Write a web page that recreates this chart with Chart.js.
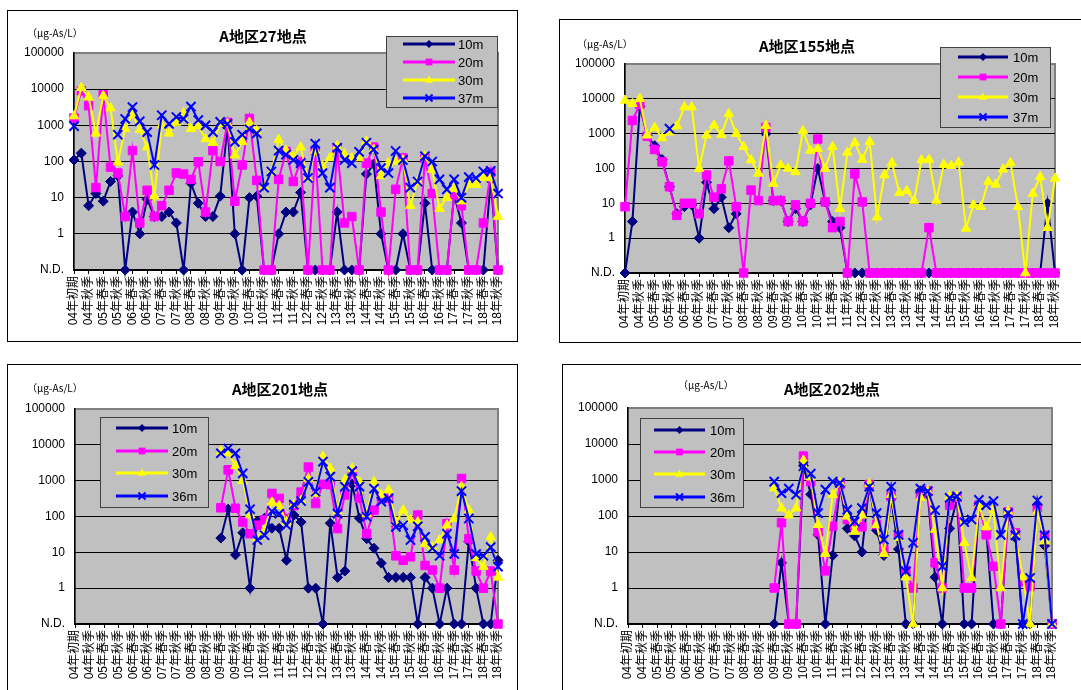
<!DOCTYPE html>
<html>
<head>
<meta charset="utf-8">
<script src="https://cdn.jsdelivr.net/npm/chart.js@4.4.0/dist/chart.umd.min.js"></script>
<style>
html, body { margin: 0; padding: 0; background: #fff; width: 1081px; height: 690px; overflow: hidden; position: relative; }
body { font-family: "Liberation Sans", "Noto Sans CJK JP", sans-serif; }
.box { position: absolute; border: 1px solid #000; box-sizing: border-box; }
canvas { position: absolute; }
.ttl { position: absolute; font-family: "Noto Sans CJK JP", sans-serif; font-size: 15px; font-weight: bold; transform: translate(-50%, -50%); white-space: nowrap; color: #000; }
.unit { position: absolute; font-family: "Noto Sans CJK JP", sans-serif; font-size: 10px; transform: translateY(-50%); white-space: nowrap; color: #000; }
</style>
</head>
<body>

<div class="box" style="left:7px;top:10px;width:511px;height:332px"></div>
<canvas id="c27" width="511" height="332" style="left:7px;top:10px"></canvas>
<div class="ttl" style="left:263px;top:35px">A地区27地点</div>
<div class="unit" style="left:27px;top:32px">（μg-As/L）</div>

<div class="box" style="left:559px;top:19px;width:540px;height:324px"></div>
<canvas id="c155" width="540" height="324" style="left:559px;top:19px"></canvas>
<div class="ttl" style="left:807px;top:45px">A地区155地点</div>
<div class="unit" style="left:577px;top:43px">（μg-As/L）</div>

<div class="box" style="left:7px;top:364px;width:511px;height:340px"></div>
<canvas id="c201" width="511" height="340" style="left:7px;top:364px"></canvas>
<div class="ttl" style="left:280px;top:388px">A地区201地点</div>
<div class="unit" style="left:27px;top:387px">（μg-As/L）</div>

<div class="box" style="left:562px;top:364px;width:540px;height:340px"></div>
<canvas id="c202" width="540" height="340" style="left:562px;top:364px"></canvas>
<div class="ttl" style="left:832px;top:388px">A地区202地点</div>
<div class="unit" style="left:678px;top:384px">（μg-As/L）</div>

<script>
// N.D. is plotted on the bottom line of the log axis
const ND = 0.1;

const categories = [
  '04年初期', '04年夏季', '04年秋季', '04年冬季',
  '05年春季', '05年夏季', '05年秋季', '05年冬季',
  '06年春季', '06年夏季', '06年秋季', '06年冬季',
  '07年春季', '07年夏季', '07年秋季', '07年冬季',
  '08年春季', '08年夏季', '08年秋季', '08年冬季',
  '09年春季', '09年夏季', '09年秋季', '09年冬季',
  '10年春季', '10年夏季', '10年秋季', '10年冬季',
  '11年春季', '11年夏季', '11年秋季', '11年冬季',
  '12年春季', '12年夏季', '12年秋季', '12年冬季',
  '13年春季', '13年夏季', '13年秋季', '13年冬季',
  '14年春季', '14年夏季', '14年秋季', '14年冬季',
  '15年春季', '15年夏季', '15年秋季', '15年冬季',
  '16年春季', '16年夏季', '16年秋季', '16年冬季',
  '17年春季', '17年夏季', '17年秋季', '17年冬季',
  '18年春季', '18年夏季', '18年秋季'
];

const yTicks = [0.1, 1, 10, 100, 1000, 10000, 100000];

// A地区27地点
const p27_10m = [110, 170, 6, 13, 8, 28, 40, ND, 4, 1,
  9, 3, 3, 4, 2, ND, 25, 7, 3, 3,
  11, 900, 1, ND, 10, 11, ND, ND, 1, 4,
  4, 14, ND, ND, ND, ND, 4, ND, ND, ND,
  45, 85, 1, ND, ND, 1, ND, ND, 7, ND,
  ND, ND, 12, 2, ND, ND, ND, 30, ND];
const p27_20m = [1600, 9000, 3500, 19, 7000, 70, 48, 3, 200, 2,
  16, 3, 6, 16, 48, 45, 32, 98, 4, 200,
  100, 1200, 8, 80, 1550, 30, ND, ND, 32, 190,
  28, 100, ND, 200, ND, ND, 230, 2, 3, ND,
  90, 250, 4, ND, 17, 125, ND, ND, 120, 13,
  ND, ND, 12, 6, ND, ND, 2, 50, ND];
const p27_30m = [1800, 11000, 6000, 600, 6500, 3000, 95, 800, 2000, 750,
  250, 11, 1000, 600, 1200, 2200, 800, 950, 420, 330,
  1100, 1100, 150, 350, 1200, 700, 20, 50, 400, 200,
  140, 250, 35, 200, 75, 125, 270, 160, 125, 125,
  360, 215, 40, 90, 100, 110, 6, 28, 140, 60,
  5, 10, 18, 8, 23, 23, 35, 35, 3];
const p27_37m = [950, null, null, null, null, null, 550, 1500, 3200, 1300,
  650, 80, 1900, 1100, 1700, 1500, 3300, 1400, 1000, 650,
  1250, 1100, 350, 550, 780, 600, 19, 53, 200, 155,
  110, 90, 35, 310, 48, 19, 240, 110, 90, 185,
  330, 215, 66, 48, 195, 110, 19, 28, 140, 100,
  32, 17, 32, 10, 37, 35, 53, 55, 13];

// A地区155地点
const p155_10m = [ND, 3, 6000, 900, 450, 180, 30, 5, 8, 9,
  1, 40, 7, 15, 2, 5, null, null, null, 1000,
  12, 12, 3, 7, 3, 9, 100, 11, 3, 2,
  ND, ND, ND, ND, ND, ND, ND, ND, ND, ND,
  ND, ND, ND, ND, ND, ND, ND, ND, ND, ND,
  ND, ND, ND, ND, ND, ND, ND, 10, ND];
const p155_20m = [8, 2400, 7000, 850, 350, 155, 30, 4.5, 10, 10,
  5, 65, 15, 26, 165, 8, ND, 24, 12, 1500,
  12, 12, 3, 9, 3, 10, 700, 11, 2, 3,
  ND, 70, 11, ND, ND, ND, ND, ND, ND, ND,
  ND, 2, ND, ND, ND, ND, ND, ND, ND, ND,
  ND, ND, ND, ND, ND, ND, ND, ND, ND];
const p155_30m = [9000, 7200, 10000, 900, 1500, 750, 1100, 1650, 5800, 5800,
  100, 900, 1750, 940, 3700, 1000, 420, 175, 72, 1700,
  37, 125, 100, 80, 1200, 330, 370, 100, 420, 7,
  290, 550, 180, 590, 4, 65, 145, 20, 23, 12,
  175, 180, 12, 130, 120, 150, 1.9, 9, 8, 42,
  35, 95, 145, 8, ND, 19, 58, 2, 52];
const p155_37m = [null, null, null, null, null, null, 1400, null, null, null,
  null, null, null, null, null, null, null, null, null, null,
  null, null, null, null, null, null, null, null, null, null,
  null, null, null, null, null, null, null, null, null, null,
  null, null, null, null, null, null, null, null, null, null,
  null, null, null, null, null, null, null, null, null];

// A地区201地点 (data from 09年春季)
const p201_10m = [null, null, null, null, null, null, null, null, null, null,
  null, null, null, null, null, null, null, null, null, null,
  25, 160, 8.5, 35, 1, 75, 90, 47, 47, 6,
  110, 70, 1, 1, ND, 65, 2, 3, 800, 90,
  24, 13, 5, 2, 2, 2, 2, ND, 2, 1,
  ND, 1, ND, ND, 20, 1, ND, ND, 6];
const p201_20m = [null, null, null, null, null, null, null, null, null, null,
  null, null, null, null, null, null, null, null, null, null,
  175, 2000, 170, 70, 33, 57, 80, 440, 320, 88,
  200, 480, 2400, 230, 790, 770, 46, 400, 1800, 320,
  33, 150, 350, 320, 8, 6, 7.5, 110, 4.3, 3.2,
  1, 63, 3.2, 1150, 24, 3, 1, 3, ND];
const p201_30m = [null, null, null, null, null, null, null, null, null, null,
  null, null, null, null, null, null, null, null, null, null,
  6600, 5900, 2600, 1000, 110, 25, 42, 250, 200, 70,
  215, 280, 1150, 440, 4700, 2200, 140, 1050, 2200, 930,
  120, 930, 400, 550, 70, 150, 80, 70, 17, 14,
  22, 57, 88, 680, 150, 7, 4, 27, 2];
const p201_36m = [null, null, null, null, null, null, null, null, null, null,
  null, null, null, null, null, null, null, null, null, null,
  5800, 7900, 5800, 1600, 160, 22, 30, 140, 120, 57,
  215, 270, 930, 490, 3400, 1300, 120, 680, 1850, 680,
  98, 600, 260, 320, 51, 57, 22, 53, 27, 13,
  8, 33, 9, 510, 88, 9, 8, 14, 4];

// A地区202地点 (data from 09年春季)
const p202_10m = [null, null, null, null, null, null, null, null, null, null,
  null, null, null, null, null, null, null, null, null, null,
  ND, 5, ND, ND, 2500, 400, 30, ND, 8, 700,
  45, 28, 10, 700, 40, 8, 300, 12, ND, ND,
  500, 400, 2, ND, 45, 300, ND, ND, 200, 40,
  ND, ND, 120, 25, ND, ND, 200, 15, ND];
const p202_20m = [null, null, null, null, null, null, null, null, null, null,
  null, null, null, null, null, null, null, null, null, null,
  1, 65, ND, ND, 4600, 900, 36, 3, 52, 750,
  80, 52, 50, 750, 58, 11.5, 350, 29, 3, 1,
  350, 500, 5, 1, 200, 330, 1, 1, 200, 30,
  4, ND, 130, 34, 1.5, 1.1, 150, 29, ND];
const p202_30m = [null, null, null, null, null, null, null, null, null, null,
  null, null, null, null, null, null, null, null, null, null,
  600, 165, 105, 165, 3500, 1200, 57, 9, 390, 830,
  98, 37, 105, 780, 57, 9, 390, 25, 2, ND,
  320, 490, 42, 1, 350, 350, 18, 1.9, 200, 49,
  150, 1, 135, 30, 2, ND, 135, 20, ND];
const p202_36m = [null, null, null, null, null, null, null, null, null, null,
  null, null, null, null, null, null, null, null, null, null,
  900, 430, 580, 390, 2400, 1500, 120, 540, 900, 830,
  150, 70, 165, 650, 120, 22, 650, 30, 2.9, 18,
  580, 490, 145, 4, 320, 350, 68, 80, 280, 200,
  260, 30, 120, 29, ND, 1.9, 270, 29, ND];

const FONT = '"Liberation Sans", "Noto Sans CJK JP", sans-serif';

// marker look for each depth (10m, 20m, 30m, 36/37m)
const depthStyles = [
  { color: '#000080', style: 'rectRot', radius: 5, legendR: 4, order: 4 },
  { color: '#ff00ff', style: 'rect', radius: 6, legendR: 4.5, order: 3 },
  { color: '#ffff00', style: 'triangle', radius: 5.5, legendR: 4.5, order: 2 },
  { color: '#0000ff', style: 'crossRot', radius: 6.5, legendR: 5, order: 1 }
];

function drawMarker(ctx, style, x, y, r, color) {
  ctx.save();
  ctx.fillStyle = color;
  ctx.strokeStyle = color;
  ctx.beginPath();
  if (style === 'rectRot') {
    ctx.moveTo(x, y - r); ctx.lineTo(x + r, y); ctx.lineTo(x, y + r); ctx.lineTo(x - r, y);
    ctx.closePath(); ctx.fill();
  } else if (style === 'rect') {
    ctx.rect(x - r * 0.75, y - r * 0.75, r * 1.5, r * 1.5); ctx.fill();
  } else if (style === 'triangle') {
    ctx.moveTo(x, y - r); ctx.lineTo(x + r * 0.9, y + r * 0.6); ctx.lineTo(x - r * 0.9, y + r * 0.6);
    ctx.closePath(); ctx.fill();
  } else {
    const d = r * 0.7;
    ctx.lineWidth = 2;
    ctx.moveTo(x - d, y - d); ctx.lineTo(x + d, y + d);
    ctx.moveTo(x + d, y - d); ctx.lineTo(x - d, y + d);
    ctx.stroke();
  }
  ctx.restore();
}

// grey plot area + the boxed legend drawn the Excel way
const plotDeco = {
  id: 'plotDeco',
  beforeDraw(chart) {
    const a = chart.chartArea, ctx = chart.ctx;
    ctx.save();
    ctx.fillStyle = '#c0c0c0';
    ctx.fillRect(a.left, a.top, a.right - a.left, a.bottom - a.top);
    ctx.strokeStyle = '#808080';
    ctx.lineWidth = 2;
    ctx.strokeRect(a.left, a.top, a.right - a.left, a.bottom - a.top);
    ctx.restore();
  },
  afterDraw(chart, args, o) {
    const ctx = chart.ctx;
    ctx.save();
    ctx.fillStyle = '#c0c0c0';
    ctx.fillRect(o.x, o.y, o.w, o.h);
    ctx.strokeStyle = '#404040';
    ctx.lineWidth = 1;
    ctx.strokeRect(o.x + 0.5, o.y + 0.5, o.w, o.h);
    chart.data.datasets.forEach((ds, i) => {
      const y = o.rows[i];
      ctx.strokeStyle = ds.borderColor;
      ctx.lineWidth = 3;
      ctx.beginPath();
      ctx.moveTo(o.x1, y);
      ctx.lineTo(o.x2, y);
      ctx.stroke();
      drawMarker(ctx, ds.pointStyle, (o.x1 + o.x2) / 2, y, ds.legendR, ds.borderColor);
      ctx.fillStyle = '#000';
      ctx.font = '13px ' + FONT;
      ctx.textBaseline = 'middle';
      ctx.fillText(ds.label, o.tx, y + 1);
    });
    ctx.restore();
  }
};

function makeChart(id, series, names, lay) {
  const datasets = series.map((data, i) => {
    const s = depthStyles[i];
    return {
      label: names[i],
      data: data,
      borderColor: s.color,
      backgroundColor: s.color,
      pointStyle: s.style,
      pointRadius: s.radius,
      pointHoverRadius: s.radius,
      pointBorderWidth: s.style === 'crossRot' ? 2 : 1,
      borderWidth: 2,
      tension: 0,
      clip: false,
      order: s.order,
      legendR: s.legendR
    };
  });

  return new Chart(document.getElementById(id), {
    type: 'line',
    data: { labels: categories, datasets: datasets },
    plugins: [plotDeco],
    options: {
      responsive: false,
      animation: false,
      devicePixelRatio: 1,
      events: [],
      layout: { padding: { left: 0, top: lay.top, right: lay.right, bottom: 0 } },
      plugins: {
        legend: { display: false },
        title: { display: false },
        tooltip: { enabled: false },
        plotDeco: lay.legend
      },
      scales: {
        x: {
          type: 'category',
          offset: false,
          grid: {
            drawOnChartArea: false,
            drawTicks: true,
            tickLength: 4,
            color: (c) => (c.index % 2 === 0 ? '#000' : 'rgba(0,0,0,0)')
          },
          border: { display: true, color: '#000', width: 1.5 },
          ticks: {
            autoSkip: false,
            minRotation: 90,
            maxRotation: 90,
            padding: 2,
            color: '#000',
            font: { size: 12, family: FONT },
            callback: (v, i) => (i % 2 === 0 ? categories[i] : '')
          },
          afterFit: (s) => { s.height = lay.xh; }
        },
        y: {
          type: 'logarithmic',
          min: 0.1,
          max: 100000,
          afterBuildTicks: (s) => { s.ticks = yTicks.map(v => ({ value: v })); },
          grid: {
            drawTicks: false,
            lineWidth: 1,
            color: (c) => (c.tick && c.tick.value === 100000 ? '#808080' : '#000')
          },
          border: { display: true, color: '#000', width: 1.5 },
          ticks: {
            color: '#000',
            padding: 10,
            font: { size: 12, family: FONT },
            callback: (v) => (v < 1 ? 'N.D.' : String(v))
          },
          afterFit: (s) => { s.width = lay.yw; }
        }
      }
    }
  });
}

makeChart('c27', [p27_10m, p27_20m, p27_30m, p27_37m], ['10m', '20m', '30m', '37m'], {
  top: 43, right: 20, yw: 67, xh: 72,
  legend: { x: 379, y: 26, w: 111, h: 71, rows: [34, 52, 70, 88], x1: 396, x2: 448, tx: 451 }
});

makeChart('c155', [p155_10m, p155_20m, p155_30m, p155_37m], ['10m', '20m', '30m', '37m'], {
  top: 45, right: 44, yw: 66, xh: 70,
  legend: { x: 381, y: 28, w: 110, h: 80, rows: [38, 58, 78, 98], x1: 399, x2: 449, tx: 454 }
});

makeChart('c201', [p201_10m, p201_20m, p201_30m, p201_36m], ['10m', '20m', '30m', '36m'], {
  top: 45, right: 20, yw: 68, xh: 80,
  legend: { x: 93, y: 53, w: 108, h: 90, rows: [64, 87, 109, 132], x1: 109, x2: 161, tx: 165 }
});

makeChart('c202', [p202_10m, p202_20m, p202_30m, p202_36m], ['10m', '20m', '30m', '36m'], {
  top: 44, right: 50, yw: 66, xh: 80,
  legend: { x: 78, y: 54, w: 103, h: 89, rows: [66, 88, 110, 133], x1: 92, x2: 143, tx: 148 }
});
</script>
</body>
</html>
